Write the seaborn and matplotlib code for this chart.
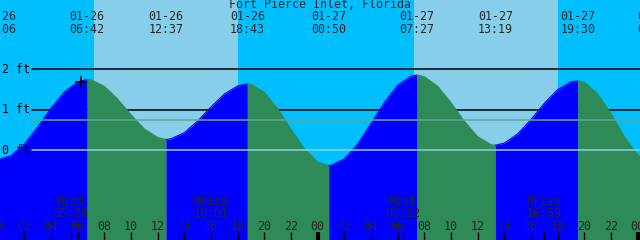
import matplotlib
matplotlib.use("Agg")
import matplotlib.pyplot as plt
import matplotlib.transforms as mtrans
import seaborn as sns

# ---------------- data ----------------
title = "Fort Pierce Inlet, Florida"

# tide curve (hours from 01-26 00:00, feet)
curve_hours = [0, 0.1, 1, 2, 3, 4, 5, 6, 6.7, 7, 8, 9, 10, 11, 12, 12.617,
               13, 14, 15, 16, 17, 18, 18.717, 19, 20, 21, 22, 23, 24, 24.833,
               25, 26, 27, 28, 29, 30, 31, 31.45, 32, 33, 34, 35, 36, 37, 37.317,
               38, 39, 40, 41, 42, 43, 43.5, 44, 45, 46, 47, 48, 49]
curve_feet = [-0.22, -0.23, -0.14, 0.15, 0.57, 1.04, 1.44, 1.69, 1.75, 1.74, 1.58, 1.26, 0.87, 0.52, 0.31, 0.26,
              0.28, 0.43, 0.72, 1.07, 1.39, 1.59, 1.64, 1.63, 1.43, 1.02, 0.51, 0.03, -0.30, -0.39,
              -0.38, -0.22, 0.15, 0.66, 1.18, 1.61, 1.83, 1.86, 1.82, 1.58, 1.17, 0.71, 0.33, 0.13, 0.12,
              0.17, 0.40, 0.76, 1.16, 1.50, 1.69, 1.72, 1.68, 1.39, 0.90, 0.33, -0.12, -0.32]

# tide event labels along the top
event_hours = [0.1, 6.7, 12.617, 18.717, 24.833, 31.45, 37.317, 43.5, 49.25]
event_dates = ["01-26", "01-26", "01-26", "01-26", "01-27", "01-27", "01-27", "01-27", "01-28"]
event_clock = ["00:06", "06:42", "12:37", "18:43", "00:50", "07:27", "13:19", "19:30", "01:15"]

# daylight
sunrise_hours = [7.22, 31.23]
sunset_hours = [18.02, 42.03]

# moon events
moon_hours = [5.467, 16.017, 30.367, 40.983]
moon_names = ["Mset", "Mrise", "Mset", "Mrise"]
moon_clock = ["05:28", "16:01", "06:22", "16:59"]

# reference levels
level_lines = [2, 1]
level_labels = ["2 ft", "1 ft", "0 ft"]
level_label_values = [2, 1, 0]
msl_feet = 0.74
datum_feet = 0

hour_labels_at = list(range(0, 49, 2))
midnights = [24, 48]

now_hour = 6.27
now_feet = 1.69

# ---------------- style ----------------
night_c = "#00bfff"
day_c = "#87ceeb"
rise_c = "#0000ff"
fall_c = "#2e8b57"
msl_c = "#5fa896"
datum_c = "#8dd0ec"

sns.set_style("white")
plt.rcParams["font.family"] = ["DejaVu Sans Mono", "DejaVu Sans"]
fs = 8.4

W, H = 640, 240
px_per_hour = 320 / 24.0
t0 = 0.17
px_per_ft = 40.3
zero_px = 150.0

fig = plt.figure(figsize=(6.4, 2.4), dpi=100)
ax = fig.add_axes([0, 0, 1, 1])
ax.axis("off")
x_lo, x_hi = t0, t0 + W / px_per_hour
y_lo, y_hi = (zero_px - H) / px_per_ft, zero_px / px_per_ft
ax.set_xlim(x_lo, x_hi)
ax.set_ylim(y_lo, y_hi)

bt = mtrans.blended_transform_factory(ax.transData, ax.transAxes)


def fy(ypx):
    return 1 - ypx / H


# background
ax.axvspan(x_lo - 1, x_hi + 1, color=night_c, zorder=0, lw=0)
for sr, ss in zip(sunrise_hours, sunset_hours):
    ax.axvspan(sr, ss, color=day_c, zorder=0.1, lw=0)

# black level lines (under the water)
for lv in level_lines:
    ax.axhline(lv, xmin=32 / W, xmax=1, color="black", lw=1.1, zorder=1)

# water fill, coloured by rising / falling
runs = []
start = 0
direction = curve_feet[1] > curve_feet[0]
for i in range(1, len(curve_hours) - 1):
    d = curve_feet[i + 1] > curve_feet[i]
    if d != direction:
        runs.append((start, i, direction))
        start = i
        direction = d
runs.append((start, len(curve_hours) - 1, direction))
for a, b, rising in runs:
    c = rise_c if rising else fall_c
    xs = curve_hours[a:b + 1]
    ys = curve_feet[a:b + 1]
    ax.fill_between(xs, ys, y_lo - 1, color=c, lw=0, zorder=2)
    sns.lineplot(x=xs, y=ys, ax=ax, color=c, lw=0.8, sort=False, zorder=2.1)

# msl and datum lines (over the water)
ax.axhline(msl_feet, xmin=32 / W, xmax=1, color=msl_c, lw=1.1, zorder=3)
ax.axhline(datum_feet, xmin=32 / W, xmax=1, color=datum_c, lw=1.1, zorder=3)

# level labels
for lab, v in zip(level_labels, level_label_values):
    ax.text(2 / W, v, lab, transform=mtrans.blended_transform_factory(ax.transAxes, ax.transData),
            ha="left", va="center", fontsize=fs, color="black", zorder=5)

# title
ax.text(0.5, fy(5), title, transform=ax.transAxes, ha="center", va="center", fontsize=fs, zorder=5)

# tide events
for t, d, c in zip(event_hours, event_dates, event_clock):
    ax.text(t, fy(17), d, transform=bt, ha="center", va="center", fontsize=fs, zorder=5)
    ax.text(t, fy(29.5), c, transform=bt, ha="center", va="center", fontsize=fs, zorder=5)

# hour ticks + labels
for h in hour_labels_at:
    ax.text(h, fy(226), "%02d" % (h % 24), transform=bt, ha="center", va="center", fontsize=fs, zorder=5)
    if h not in midnights and h != 0:
        ax.vlines(h, 0, 8 / H, transform=bt, color="black", lw=1, zorder=5)
ax.vlines(midnights, 0, 8 / H, transform=bt, color="black", lw=3, zorder=5)

# moon events
for t, n, c in zip(moon_hours, moon_names, moon_clock):
    ax.text(t, fy(201.5), n, transform=bt, ha="center", va="center", fontsize=fs, zorder=5)
    ax.text(t, fy(213.5), c, transform=bt, ha="center", va="center", fontsize=fs, zorder=5)
    ax.vlines(t, 0, 8 / H, transform=bt, color="black", lw=1, zorder=5)

# current time mark
ax.plot([now_hour], [now_feet], marker="+", ms=9, mew=1.2, color="black", zorder=6)

fig.savefig("out.png", dpi=100)
